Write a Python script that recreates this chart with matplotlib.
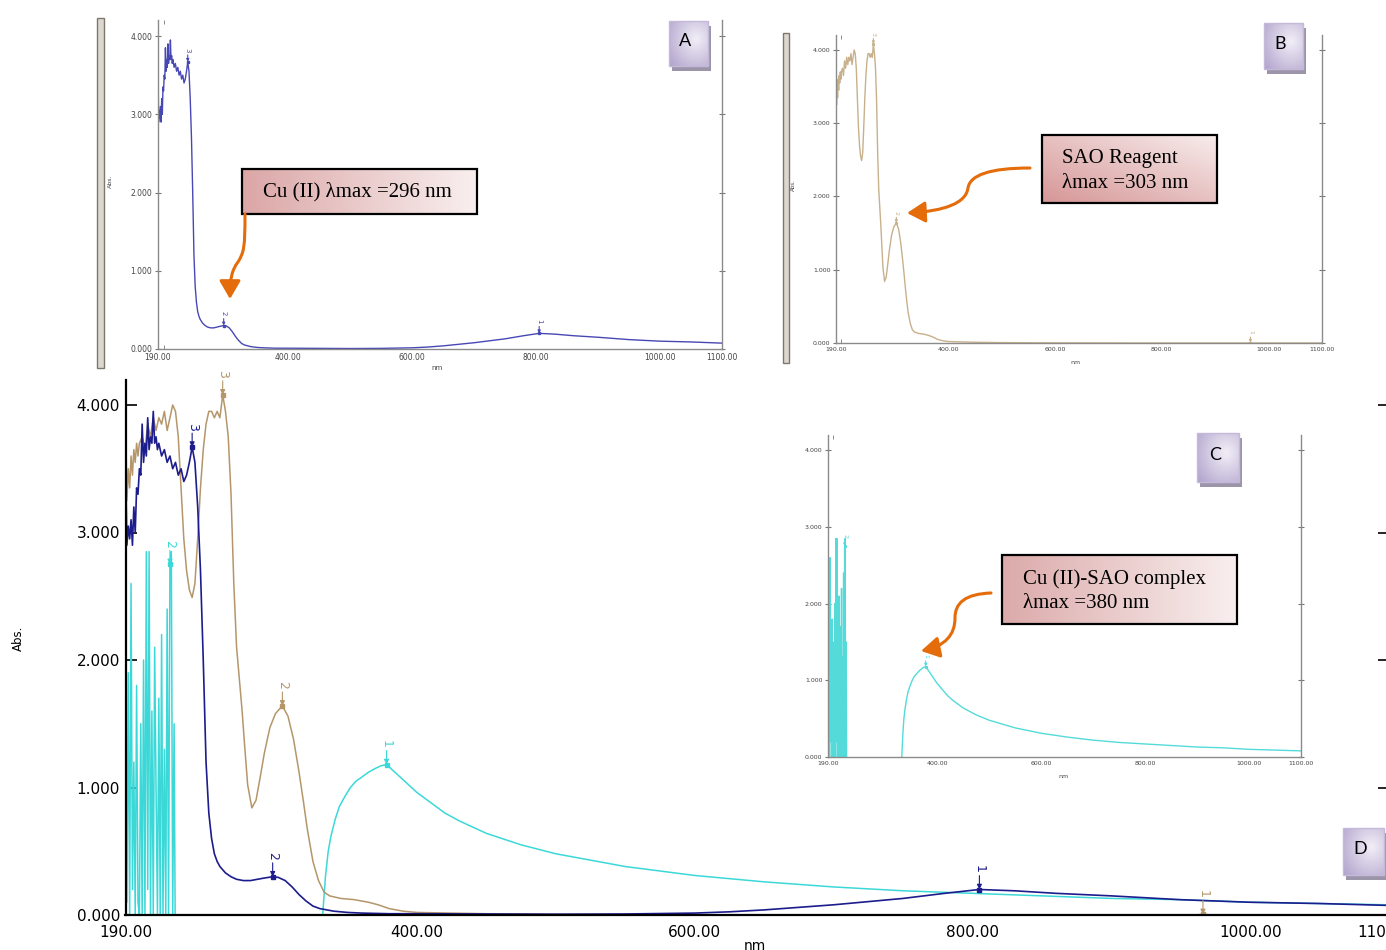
import numpy as np
import matplotlib
matplotlib.use('Agg')
import matplotlib.pyplot as plt
from matplotlib.patches import Rectangle, FancyArrowPatch
from matplotlib.path import Path
from matplotlib.colors import LinearSegmentedColormap

W, H = 1386, 950

# ---- spectra (nm, Abs.) ----
# Cu(II)
cu_wl = [190, 190.5, 191, 192, 193, 194, 195, 196, 197, 198, 199, 200, 201, 202, 203, 204, 205, 206,
         207, 208, 209, 210, 211, 212, 213, 214, 216, 218, 220, 222, 224, 226, 228, 230, 232, 234,
         236, 238, 240, 242, 244, 246, 248, 250, 252, 254, 256, 258, 262, 266, 270, 275, 280, 285,
         290, 296, 300, 305, 310, 315, 320, 325, 330, 335, 340, 350, 360, 380, 400, 450, 500, 550,
         600, 625, 650, 700, 750, 780, 805, 830, 860, 900, 950, 1000, 1050, 1100]
cu_abs = [2.45, 3.25, 2.9, 3.05, 2.95, 3.1, 2.9, 3.2, 3.0, 3.35, 3.3, 3.5, 3.45, 3.85, 3.55, 3.7, 3.6, 3.9,
          3.65, 3.75, 3.7, 3.95, 3.7, 3.75, 3.65, 3.7, 3.6, 3.65, 3.55, 3.6, 3.5, 3.55, 3.45, 3.5, 3.4, 3.45,
          3.55, 3.67, 3.55, 3.2, 2.7, 2.0, 1.2, 0.8, 0.6, 0.48, 0.42, 0.38, 0.33, 0.3, 0.28, 0.27, 0.27, 0.28,
          0.29, 0.30, 0.295, 0.27, 0.22, 0.16, 0.11, 0.07, 0.05, 0.04, 0.03, 0.02, 0.015, 0.01, 0.01, 0.008, 0.006, 0.008,
          0.015, 0.025, 0.04, 0.08, 0.13, 0.17, 0.2, 0.19, 0.17, 0.15, 0.12, 0.1, 0.09, 0.075]
cu_pk_wl = [238, 296, 805]
cu_pk_lab = ['3', '2', '1']

# SAO reagent
sao_wl = [190, 190.5, 191, 192, 193, 194, 195, 196, 197, 198, 199, 200, 202, 204, 206, 208, 210, 212,
          214, 216, 218, 220, 222, 224, 226, 228, 230, 232, 234, 236, 238, 240, 242, 244, 246, 248,
          250, 252, 254, 256, 258, 260, 262, 264, 266, 268, 270, 272, 274, 276, 278, 281, 284, 287,
          290, 294, 298, 303, 307, 311, 315, 318, 321, 325, 329, 333, 337, 345, 355, 365, 372, 380,
          390, 400, 450, 500, 600, 760, 960, 966, 972, 1100]
sao_abs = [3.1, 3.6, 3.25, 3.5, 3.35, 3.6, 3.45, 3.65, 3.55, 3.7, 3.6, 3.7, 3.75, 3.65, 3.85, 3.75, 3.9, 3.8,
           3.9, 3.85, 3.95, 3.8, 3.9, 4.0, 3.95, 3.75, 3.35, 2.95, 2.7, 2.55, 2.49, 2.6, 2.95, 3.35, 3.65, 3.85,
           3.95, 3.95, 3.9, 3.95, 3.9, 4.08, 3.95, 3.75, 3.3, 2.6, 2.1, 1.85, 1.6, 1.3, 1.02, 0.84, 0.9, 1.08,
           1.27, 1.47, 1.58, 1.64, 1.56, 1.38, 1.12, 0.9, 0.67, 0.42, 0.27, 0.18, 0.15, 0.13, 0.12, 0.1, 0.08, 0.05,
           0.03, 0.02, 0.01, 0.005, 0.002, 0.0, 0.0, 0.005, 0.0, 0.0]
sao_pk_wl = [260, 303, 966]
sao_pk_lab = ['3', '2', '1']

# Cu(II)-SAO complex
cpx_wl = [190, 191, 192, 193, 194, 195, 196, 197, 198, 199, 200, 201, 202, 203, 204, 205, 206, 207,
          208, 209, 210, 211, 212, 213, 214, 215, 216, 217, 218, 219, 220, 221, 222, 223, 224, 225,
          226, 331, 332, 334, 336, 338, 341, 344, 348, 352, 356, 360, 365, 370, 374, 378, 382, 386,
          390, 400, 410, 420, 430, 450, 475, 500, 550, 600, 650, 700, 750, 800, 850, 900, 950, 1000,
          1050, 1100]
cpx_abs = [2.3, 0.1, 1.9, 0.0, 2.6, 0.2, 1.2, 0.0, 1.8, 0.1, 0.0, 1.5, 0.0, 2.0, 0.0, 2.85, 0.2, 2.85,
           0.0, 1.6, 0.0, 2.1, 1.0, 0.0, 1.7, 0.0, 2.2, 0.0, 1.3, 0.0, 2.4, 0.0, 2.75, 2.85, 0.0, 1.5,
           -0.5, -0.5, 0.0, 0.3, 0.5, 0.62, 0.75, 0.85, 0.93, 1.0, 1.05, 1.08, 1.12, 1.15, 1.17, 1.18, 1.14, 1.1,
           1.06, 0.96, 0.88, 0.8, 0.74, 0.64, 0.55, 0.48, 0.38, 0.31, 0.26, 0.22, 0.19, 0.17, 0.15, 0.13, 0.12, 0.1,
           0.09, 0.08]
cpx_pk_wl = [222, 378]
cpx_pk_lab = ['2', '1']

x_lab_pos = [190, 400, 600, 800, 1000, 1100]
x_lab_txt = ['190.00', '400.00', '600.00', '800.00', '1000.00', '1100.00']
x_tick_pos = [200, 400, 600, 800, 1000]
y_pos = [0, 1, 2, 3, 4]
y_txt = ['0.000', '1.000', '2.000', '3.000', '4.000']

fig = plt.figure(figsize=(W / 100, H / 100), dpi=100)


def px_axes(x0, y_top, x1, y_bot):
    return fig.add_axes([x0 / W, 1 - y_bot / H, (x1 - x0) / W, (y_bot - y_top) / H])


def small_panel(x0, y_top, x1, y_bot, fs):
    ax = px_axes(x0, y_top, x1, y_bot)
    ax.set_xlim(190, 1100)
    ax.set_ylim(0, 4.2)
    for s in ['left', 'bottom', 'right']:
        ax.spines[s].set_color('#8a8a8a')
        ax.spines[s].set_linewidth(1.0)
    ax.spines['top'].set_visible(False)
    ax.set_xticks(x_lab_pos)
    ax.set_xticklabels(x_lab_txt)
    ax.set_xticks(x_tick_pos, minor=True)
    ax.tick_params(axis='x', which='major', length=0, labelsize=fs, pad=3, labelcolor='#444444')
    ax.tick_params(axis='x', which='minor', length=3, direction='in', top=True, color='#777777')
    ax.set_yticks(y_pos)
    ax.set_yticklabels(y_txt)
    ax.tick_params(axis='y', length=4, direction='inout', right=True, labelsize=fs,
                   color='#777777', labelcolor='#444444', pad=2)
    return ax


def mark_peaks(ax, wl, ab, pk_wl, pk_lab, color, fs, off, ms):
    for w, lab in zip(pk_wl, pk_lab):
        v = ab[wl.index(w)]
        ax.annotate(lab, xy=(w, v), xytext=(0, off), textcoords='offset points', rotation=-90,
                    ha='center', va='bottom', fontsize=fs, color=color,
                    arrowprops=dict(arrowstyle='-|>', color=color, lw=0.8, mutation_scale=fs * 0.8,
                                    shrinkA=0, shrinkB=0))
        ax.plot(w, v, 's', color=color, ms=ms)


# ---- A : Cu(II) ----
axA = small_panel(158, 20.4, 722, 349, 5.5)
axA.plot(cu_wl, cu_abs, color='#4848b4', lw=1.0)
mark_peaks(axA, cu_wl, cu_abs, cu_pk_wl, cu_pk_lab, '#4848b4', 5, 7, 1.5)

# ---- B : SAO reagent ----
axB = small_panel(836, 35.3, 1322, 343, 4.5)
axB.plot(sao_wl, sao_abs, color='#c8b08c', lw=1.0)
mark_peaks(axB, sao_wl, sao_abs, sao_pk_wl, sao_pk_lab, '#c8b08c', 4.5, 6, 1.2)

# ---- D : overlay of all three ----
axD = px_axes(125.5, 379.5, 1389, 915)
axD.set_xlim(190, 1100)
axD.set_ylim(0, 4.2)
axD.plot(cpx_wl, cpx_abs, color='#3cd8d8', lw=1.1)
axD.plot(sao_wl, sao_abs, color='#b4966a', lw=1.1)
axD.plot(cu_wl, cu_abs, color='#1c1c8c', lw=1.2)
mark_peaks(axD, cpx_wl, cpx_abs, cpx_pk_wl, cpx_pk_lab, '#3cd8d8', 9, 12, 3)
mark_peaks(axD, sao_wl, sao_abs, sao_pk_wl, sao_pk_lab, '#b4966a', 9, 12, 3)
mark_peaks(axD, cu_wl, cu_abs, cu_pk_wl, cu_pk_lab, '#1c1c8c', 9, 12, 3)
axD.spines['top'].set_visible(False)
axD.spines['right'].set_visible(False)
axD.spines['left'].set_linewidth(1.6)
axD.spines['bottom'].set_linewidth(1.6)
axD.set_xticks(x_lab_pos)
axD.set_xticklabels(x_lab_txt)
axD.set_xticks(x_tick_pos, minor=True)
axD.tick_params(axis='x', which='major', length=0, labelsize=11, pad=7)
axD.tick_params(axis='x', which='minor', length=7, width=1.3, direction='in')
axD.set_yticks(y_pos)
axD.set_yticklabels(y_txt)
axD.tick_params(axis='y', length=8, width=1.2, direction='in', right=True, labelsize=11, pad=4)

# ---- C : Cu(II)-SAO complex (inset) ----
axC = small_panel(828, 435, 1301, 757, 4.5)
axC.plot(cpx_wl, cpx_abs, color='#55dada', lw=1.0)
mark_peaks(axC, cpx_wl, cpx_abs, cpx_pk_wl, cpx_pk_lab, '#55dada', 4.5, 6, 1.2)

# ---- overlay in pixel coordinates: frames, call-outs, arrows, letters ----
ov = fig.add_axes([0, 0, 1, 1], zorder=10)
ov.axis('off')
ov.set_autoscale_on(False)
ov.set_xlim(0, W)
ov.set_ylim(H, 0)

# window edges left of A and B
ov.add_patch(Rectangle((97, 18), 7, 350, fc='#dcd8d0', ec='#7d786e', lw=1))
ov.add_patch(Rectangle((783, 33), 6, 330, fc='#dcd8d0', ec='#7d786e', lw=1))

# axis captions
ov.text(110, 181, 'Abs.', rotation=90, fontsize=4.5, ha='center', va='center', color='#444444')
ov.text(793, 185, 'Abs.', rotation=90, fontsize=4, ha='center', va='center', color='#444444')
ov.text(18, 638, 'Abs.', rotation=90, fontsize=8.5, ha='center', va='center')
ov.text(437, 368, 'nm', fontsize=5, ha='center', va='center', color='#444444')
ov.text(1075, 363, 'nm', fontsize=4.5, ha='center', va='center', color='#444444')
ov.text(1063, 776, 'nm', fontsize=4.5, ha='center', va='center', color='#444444')
ov.text(755, 946, 'nm', fontsize=10, ha='center', va='center')


def grad_box(x0, y0, x1, y1, c_dark, c_light, diagonal=False):
    if diagonal:
        xx, yy = np.meshgrid(np.linspace(0, 1, 128), np.linspace(0, 1, 64))
        arr = (xx + (1 - yy)) / 2
    else:
        arr = np.linspace(0, 1, 256).reshape(1, -1)
    cmap = LinearSegmentedColormap.from_list('box', [c_dark, c_light])
    ov.imshow(arr, extent=(x0, x1, y1, y0), cmap=cmap, aspect='auto', interpolation='bilinear', zorder=5)
    ov.add_patch(Rectangle((x0, y0), x1 - x0, y1 - y0, fill=False, ec='black', lw=1.6, zorder=6))


def letter_box(x0, y0, w, h, letter):
    ov.add_patch(Rectangle((x0 + 3, y0 + 5), w, h, fc='#9c95a9', ec='none', zorder=5))
    xx, yy = np.meshgrid(np.linspace(0, 1, 64), np.linspace(0, 1, 64))
    arr = np.sqrt((xx - 0.7) ** 2 + (yy - 0.4) ** 2)
    cmap = LinearSegmentedColormap.from_list('lt', ['#f1eef7', '#b0a1cb'])
    ov.imshow(arr / arr.max(), extent=(x0, x0 + w, y0 + h, y0), cmap=cmap, aspect='auto',
              interpolation='bilinear', zorder=6)
    ov.add_patch(Rectangle((x0, y0), w, h, fill=False, ec='#c4b9d8', lw=1, zorder=7))
    ov.text(x0 + w * 0.42, y0 + h * 0.45, letter, fontsize=13, family='Lato', ha='center',
            va='center', zorder=8)


def curved_arrow(pts):
    codes = [Path.MOVETO] + [Path.CURVE4] * (len(pts) - 1)
    ov.add_patch(FancyArrowPatch(path=Path(pts, codes), arrowstyle='-|>,head_length=0.55,head_width=0.32',
                                 mutation_scale=20, color='#e46c0a', lw=2.2, zorder=7))


serif = ['Liberation Serif', 'DejaVu Serif']

grad_box(242, 169, 477, 214, '#dba6a6', '#f9efef')
ov.text(263, 192, 'Cu (II) λmax =296 nm', fontsize=15, family=serif, va='center', zorder=8)
curved_arrow([(245, 214), (245, 248), (244, 252), (238, 262),
              (232, 270), (230, 278), (230, 299)])

grad_box(1042, 135, 1217, 203, '#d69696', '#f8ecec', diagonal=True)
ov.text(1062, 158, 'SAO Reagent', fontsize=15, family=serif, va='center', zorder=8)
ov.text(1062, 183, 'λmax =303 nm', fontsize=15, family=serif, va='center', zorder=8)
curved_arrow([(1030, 168), (990, 168), (970, 175), (968, 188),
              (966, 203), (945, 211), (907, 213)])

grad_box(1002, 555, 1237, 624, '#dcaaaa', '#f9efef')
ov.text(1023, 579, 'Cu (II)-SAO complex', fontsize=15, family=serif, va='center', zorder=8)
ov.text(1023, 603, 'λmax =380 nm', fontsize=15, family=serif, va='center', zorder=8)
curved_arrow([(991, 593), (965, 594), (955, 603), (955, 618),
              (955, 635), (945, 646), (921, 651)])

letter_box(669, 21, 39, 45, 'A')
letter_box(1264, 23, 39, 46, 'B')
letter_box(1197, 433, 42, 49, 'C')
letter_box(1343, 828, 41, 47, 'D')

fig.savefig('out.png', dpi=100)
